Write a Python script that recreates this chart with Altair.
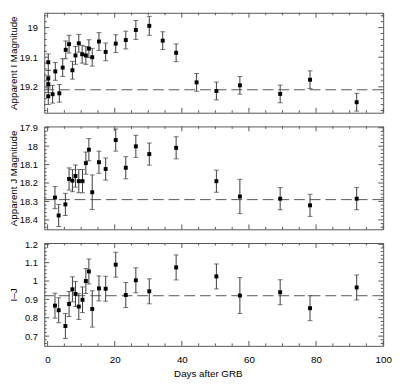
import altair as alt
import pandas as pd

# ---------------- data ----------------
days_I = [0.2, 0.2, 0.2, 0.2, 1.5, 2.3, 3.5, 4.5, 5.4, 6.4, 7.4, 8.3, 9.3, 10.3, 11.4,
          12.3, 13.3, 15.3, 17.3, 20.3, 23.3, 26.3, 30.3, 34.3, 38.3, 44.4, 50.3,
          57.3, 69.3, 78.2, 92.1]
mag_I = [19.117, 19.172, 19.191, 19.232, 19.225, 19.148, 19.222, 19.135, 19.075,
         19.056, 19.144, 19.094, 19.053, 19.090, 19.094, 19.071, 19.100, 19.047,
         19.082, 19.054, 19.042, 19.008, 18.994, 19.044, 19.085, 19.185, 19.214,
         19.195, 19.224, 19.176, 19.252]
err_I = [0.028, 0.028, 0.028, 0.028, 0.03, 0.03, 0.03, 0.03, 0.03, 0.03, 0.03, 0.03,
         0.03, 0.03, 0.03, 0.03, 0.03, 0.03, 0.03, 0.03, 0.03, 0.032, 0.032, 0.03,
         0.03, 0.03, 0.03, 0.03, 0.03, 0.03, 0.03]

days_J = [2.2, 3.3, 5.3, 6.4, 7.4, 8.3, 9.3, 10.4, 11.4, 12.3, 13.3, 15.3, 17.3, 20.3,
          23.3, 26.3, 30.3, 38.3, 50.3, 57.3, 69.3, 78.2, 92.1]
mag_J = [18.279, 18.376, 18.316, 18.178, 18.187, 18.162, 18.190, 18.190, 18.092,
         18.019, 18.250, 18.087, 18.124, 17.967, 18.117, 18.001, 18.043, 18.009,
         18.190, 18.273, 18.285, 18.321, 18.285]
err_J = [0.06, 0.06, 0.06, 0.06, 0.06, 0.06, 0.063, 0.063, 0.06, 0.06, 0.094, 0.06,
         0.06, 0.06, 0.06, 0.06, 0.06, 0.06, 0.06, 0.093, 0.06, 0.06, 0.06]

color_IJ = [0.866, 0.841, 0.755, 0.875, 0.955, 0.930, 0.861, 0.898, 1.000, 1.052,
            0.848, 0.960, 0.958, 1.089, 0.924, 1.004, 0.944, 1.074, 1.025, 0.921,
            0.939, 0.852, 0.965]
err_IJ = [0.068, 0.068, 0.068, 0.068, 0.068, 0.068, 0.07, 0.07, 0.068, 0.068, 0.099,
          0.068, 0.068, 0.068, 0.068, 0.068, 0.068, 0.068, 0.068, 0.098, 0.068,
          0.068, 0.068]

host_I, host_J, host_IJ = 19.21, 18.29, 0.92

x_major = [0, 20, 40, 60, 80, 100]
x_minor = [5, 10, 15, 25, 30, 35, 45, 50, 55, 65, 70, 75, 85, 90, 95]
yt_I = [19.0, 19.1, 19.2]
yt_J = [17.9, 18.0, 18.1, 18.2, 18.3, 18.4]
yt_IJ = [0.7, 0.8, 0.9, 1.0, 1.1, 1.2]

# ---------------- styling ----------------
W = 346
FONT = "Liberation Sans"
FRAME = "#555555"
BAR = "#3a3a3a"
xscale = alt.Scale(domain=[-1, 100], nice=False, zero=False)


def minors(domain, majors, step=0.02):
    lo, hi = min(domain), max(domain)
    out = []
    k = int(lo / step) - 1
    while k * step <= hi + 1e-9:
        v = round(k * step, 3)
        if lo < v < hi and all(abs(v - m) > 1e-6 for m in majors):
            out.append(v)
        k += 1
    return out


def panel(days, vals, errs, domain, reverse, yticks, title, h, ref, show_x):
    df = pd.DataFrame({
        "day": days,
        "val": vals,
        "lo": [v - e for v, e in zip(vals, errs)],
        "hi": [v + e for v, e in zip(vals, errs)],
    })
    yscale = alt.Scale(domain=domain, reverse=reverse, nice=False, zero=False)

    if show_x:
        xaxis = alt.Axis(values=x_major, ticks=False, domain=False, grid=False,
                         labelPadding=9, labelFlush=False, labelFontSize=10,
                         labelFont=FONT, labelColor="black",
                         title="Days after GRB", titleFont=FONT, titleFontSize=10,
                         titleFontWeight="normal", titleColor="black",
                         titlePadding=4, titleX=167)
    else:
        xaxis = None
    yaxis = alt.Axis(values=yticks, format="~g", ticks=False, domain=False, grid=False,
                     labelPadding=7, labelFontSize=9.5, labelFont=FONT,
                     labelColor="black", title=title, titleFont=FONT,
                     titleFontSize=10, titleFontWeight="normal", titleColor="black",
                     titleX=-26, titleY=h / 2)

    def X(f):
        return alt.X(f, scale=xscale, axis=xaxis)

    def Y(f):
        return alt.Y(f, scale=yscale, axis=yaxis)

    base = alt.Chart(df)
    ref_line = alt.Chart(pd.DataFrame({"ref": [ref]})).mark_rule(
        strokeDash=[11, 5], color=FRAME, strokeWidth=1
    ).encode(y=Y("ref:Q"))
    bars = base.mark_rule(color=BAR, strokeWidth=1).encode(
        x=X("day:Q"), y=Y("lo:Q"), y2="hi:Q")
    cap_lo = base.mark_tick(orient="horizontal", size=5, thickness=1, color=BAR).encode(
        x=X("day:Q"), y=Y("lo:Q"))
    cap_hi = base.mark_tick(orient="horizontal", size=5, thickness=1, color=BAR).encode(
        x=X("day:Q"), y=Y("hi:Q"))
    pts = base.mark_square(size=16, color="black", opacity=1).encode(
        x=X("day:Q"), y=Y("val:Q"))

    layers = [ref_line, bars, cap_lo, cap_hi, pts]

    # inward frame ticks
    ymin = minors(domain, yticks)
    for vals_t, L in ((x_major, 5), (x_minor, 2.5)):
        d = alt.Chart(pd.DataFrame({"v": vals_t}))
        layers.append(d.mark_rule(color=FRAME).encode(x=X("v:Q"), y=alt.value(0), y2=alt.value(L)))
        layers.append(d.mark_rule(color=FRAME).encode(x=X("v:Q"), y=alt.value(h), y2=alt.value(h - L)))
    for vals_t, L in ((yticks, 5), (ymin, 2.5)):
        d = alt.Chart(pd.DataFrame({"v": vals_t}))
        layers.append(d.mark_rule(color=FRAME).encode(y=Y("v:Q"), x=alt.value(0), x2=alt.value(L)))
        layers.append(d.mark_rule(color=FRAME).encode(y=Y("v:Q"), x=alt.value(W), x2=alt.value(W - L)))

    return alt.layer(*layers).properties(width=W, height=h)


top = panel(days_I, mag_I, err_I, [18.95, 19.2875], True, yt_I,
            "Apparent I Magnitude", 102, host_I, False)
mid = panel(days_J, mag_J, err_J, [17.893, 18.451], True, yt_J,
            "Apparent J Magnitude", 105, host_J, False)
bot = panel(days_J, color_IJ, err_IJ, [0.647, 1.207], False, yt_IJ,
            "I–J", 105, host_IJ, True)

chart = alt.vconcat(top, mid, bot, spacing=14, bounds="flush").properties(
    padding={"left": 0, "top": 0, "right": 0, "bottom": 0}
).configure_view(stroke=FRAME, strokeWidth=1)

chart.save("out.html", embed_options={"renderer": "svg", "actions": False})
